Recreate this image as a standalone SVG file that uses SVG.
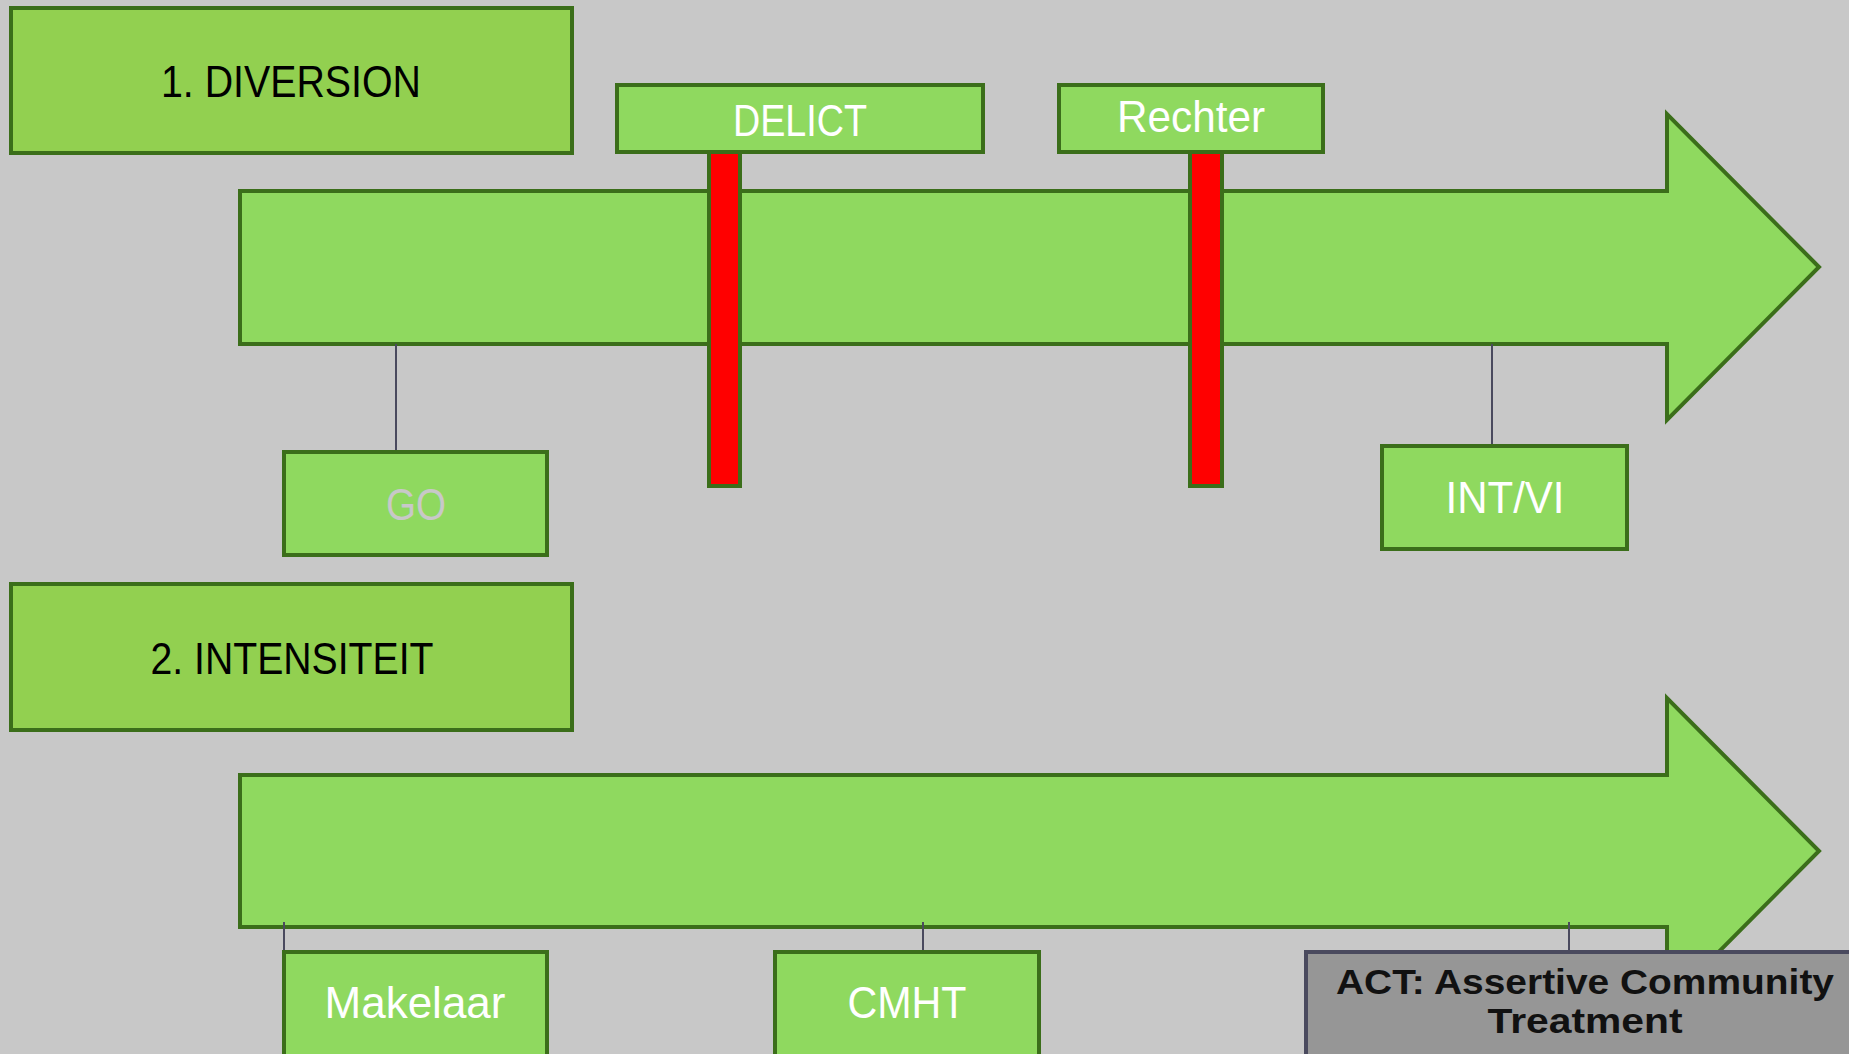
<svg xmlns="http://www.w3.org/2000/svg" width="1849" height="1054" viewBox="0 0 1849 1054">
<style>
.bg{fill:#c8c8c8}
.title{fill:#92d050;stroke:#3b6e1a;stroke-width:4}
.box{fill:#8fd95f;stroke:#3b6e1a;stroke-width:4}
.arrow{fill:#8fd95f;stroke:#3b6e1a;stroke-width:4;stroke-linejoin:miter}
.bar{fill:#ff0000;stroke:#3b6e1a;stroke-width:4}
.act{fill:#969696;stroke:#4a4a5e;stroke-width:4}
.conn{stroke:#4a4a5e;stroke-width:2;fill:none}
text{font-family:"Liberation Sans",Arial,sans-serif;text-anchor:middle}
.tt{fill:#000;font-size:44px}
.wt{fill:#fff;font-size:44px}
.gt{fill:#c8c8c8;font-size:44px}
.bt{fill:#111;font-size:35px;font-weight:bold}
</style>
<rect class="bg" x="0" y="0" width="1849" height="1054"/>
<g id="arrow1"><path class="arrow" d="M240,191 H1667 V114 L1819,267 L1667,420 V344 H240 Z"/></g>
<g id="arrow2"><path class="arrow" d="M240,775 H1667 V698 L1819,851 L1667,1004 V927 H240 Z"/></g>
<g id="connectors">
<line class="conn" x1="396" y1="344" x2="396" y2="452"/>
<line class="conn" x1="1492" y1="344" x2="1492" y2="446"/>
<line class="conn" x1="284" y1="922" x2="284" y2="952"/>
<line class="conn" x1="923" y1="922" x2="923" y2="952"/>
<line class="conn" x1="1569" y1="922" x2="1569" y2="952"/>
</g>
<g id="title1"><rect class="title" x="11" y="8" width="561" height="145"/><text class="tt" x="291" y="97" textLength="260" lengthAdjust="spacingAndGlyphs">1. DIVERSION</text></g>
<g id="title2"><rect class="title" x="11" y="584" width="561" height="146"/><text class="tt" x="292" y="674" textLength="283" lengthAdjust="spacingAndGlyphs">2. INTENSITEIT</text></g>
<g id="bar-delict"><rect class="bar" x="709" y="152" width="31" height="334"/></g>
<g id="bar-rechter"><rect class="bar" x="1190" y="152" width="32" height="334"/></g>
<g id="delict"><rect class="box" x="617" y="85" width="366" height="67"/><text class="wt" x="800" y="136" textLength="134" lengthAdjust="spacingAndGlyphs">DELICT</text></g>
<g id="rechter"><rect class="box" x="1059" y="85" width="264" height="67"/><text class="wt" x="1191" y="132" textLength="148" lengthAdjust="spacingAndGlyphs">Rechter</text></g>
<g id="go"><rect class="box" x="284" y="452" width="263" height="103"/><text class="gt" x="416" y="520" textLength="60" lengthAdjust="spacingAndGlyphs">GO</text></g>
<g id="intvi"><rect class="box" x="1382" y="446" width="245" height="103"/><text class="wt" x="1505" y="513" textLength="119" lengthAdjust="spacingAndGlyphs">INT/VI</text></g>
<g id="makelaar"><rect class="box" x="284" y="952" width="263" height="120"/><text class="wt" x="415" y="1018" textLength="181" lengthAdjust="spacingAndGlyphs">Makelaar</text></g>
<g id="cmht"><rect class="box" x="775" y="952" width="264" height="120"/><text class="wt" x="907" y="1018" textLength="119" lengthAdjust="spacingAndGlyphs">CMHT</text></g>
<g id="act"><rect class="act" x="1306" y="952" width="560" height="120"/><text class="bt" x="1585" y="994" textLength="498" lengthAdjust="spacingAndGlyphs">ACT: Assertive Community</text><text class="bt" x="1585" y="1033" textLength="195" lengthAdjust="spacingAndGlyphs">Treatment</text></g>
</svg>
